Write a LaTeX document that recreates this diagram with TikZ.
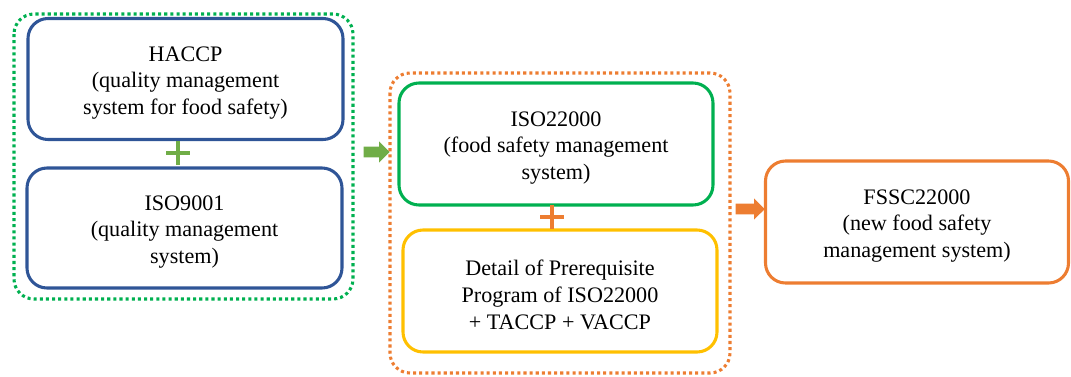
\documentclass[tikz,border=0pt]{standalone}
\usepackage{fontspec}
\setmainfont{Liberation Serif}
\newfontfamily\cardfont{Liberation Serif}
\usetikzlibrary{shapes.arrows}
\definecolor{navy}{HTML}{2F5597}
\definecolor{leaf}{HTML}{00B050}
\definecolor{olive}{HTML}{70AD47}
\definecolor{amber}{HTML}{FFC000}
\definecolor{tangerine}{HTML}{ED7D31}
\tikzset{
  card/.style={draw, line width=2.3pt, rounded corners=15pt, inner sep=0pt},
  cardtext/.style={align=center, text=black, inner sep=0pt, yshift=-3pt,
    font=\cardfont\fontsize{16.6}{20.2}\selectfont},
  groupbox/.style={draw, line width=2.3pt, rounded corners=15pt,
    dash pattern=on 2.3pt off 2.3pt},
  blockarrow/.style={single arrow, draw=none, inner xsep=0pt, inner ysep=3.9pt,
    single arrow head extend=3.9pt, single arrow tip angle=90},
  plusbar/.style={line width=2.4pt}
}
\begin{document}
\begin{tikzpicture}[x=0.75pt, y=-0.75pt]
\useasboundingbox (0,0) rectangle (1071,376);
% dotted group frames
\draw[groupbox, leaf] (14,14) rectangle (353,299);
\draw[groupbox, tangerine] (390,73) rectangle (730,373);
% boxes with their captions
\node[card, navy, minimum width=315*0.75pt, minimum height=121*0.75pt,
  label={[cardtext]center:HACCP\\(quality management\\system for food safety)}]
  (haccp) at (185.5,79) {};
\node[card, navy, minimum width=315*0.75pt, minimum height=120*0.75pt,
  label={[cardtext]center:ISO9001\\(quality management\\system)}]
  (iso9001) at (184.5,228) {};
\node[card, leaf, minimum width=314*0.75pt, minimum height=122*0.75pt,
  label={[cardtext]center:ISO22000\\(food safety management\\system)}]
  (iso22000) at (556,144) {};
\node[card, amber, minimum width=314*0.75pt, minimum height=122*0.75pt,
  label={[cardtext]center:Detail of Prerequisite\\Program of ISO22000\\+ TACCP + VACCP}]
  (prp) at (560,291) {};
\node[card, tangerine, minimum width=303*0.75pt, minimum height=122*0.75pt,
  label={[cardtext]center:FSSC22000\\(new food safety\\management system)}]
  (fssc) at (917,222) {};
% plus signs between stacked boxes
\coordinate (p1) at (178,153);
\draw[plusbar, olive] ([xshift=-9pt]p1) -- ([xshift=9pt]p1);
\draw[plusbar, olive] ([yshift=9pt]p1) -- ([yshift=-9pt]p1);
\coordinate (p2) at (552,217);
\draw[plusbar, tangerine] ([xshift=-9pt]p2) -- ([xshift=9pt]p2);
\draw[plusbar, tangerine] ([yshift=9pt]p2) -- ([yshift=-9pt]p2);
% block arrows between stages
\node[blockarrow, fill=olive, minimum height=26*0.75pt]
  (a1) at (374,152) {};
\node[blockarrow, fill=tangerine, minimum height=29*0.75pt]
  (a2) at (747.5,209) {};
\end{tikzpicture}
\end{document}
